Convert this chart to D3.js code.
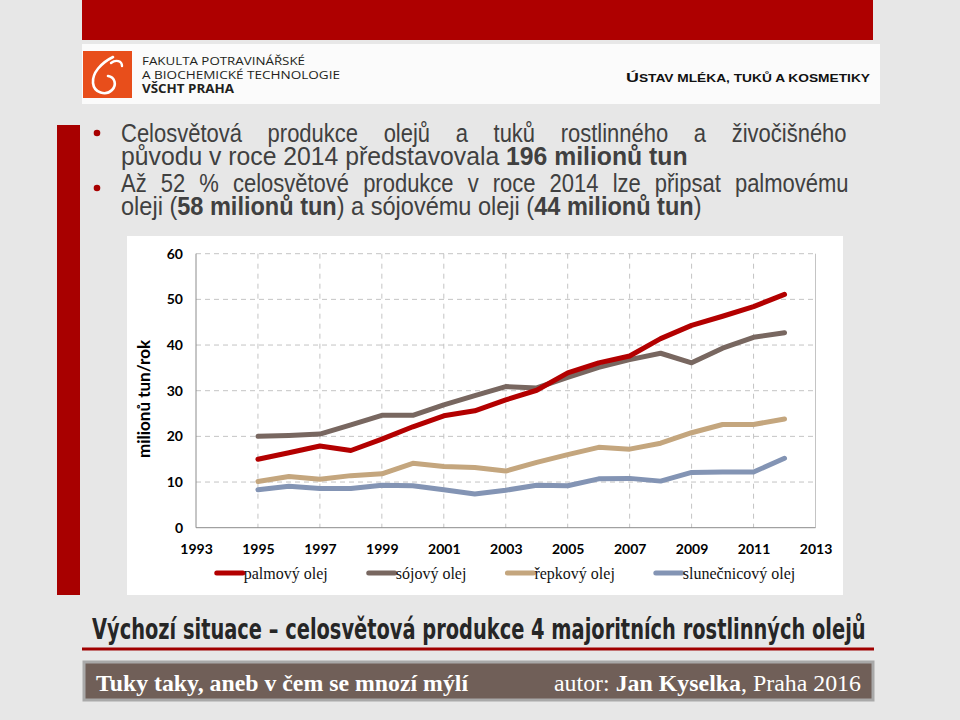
<!DOCTYPE html>
<html><head><meta charset="utf-8">
<script src="https://cdn.jsdelivr.net/npm/d3@7"></script>
<style>html,body{margin:0;padding:0;background:#e7e7e7;}svg{display:block;}</style>
</head><body>
<script>
// ---- data ----
const years = [1995,1996,1997,1998,1999,2000,2001,2002,2003,2004,2005,2006,2007,2008,2009,2010,2011,2012];
const palmovy = [15.0,16.4,17.9,16.9,19.4,22.1,24.5,25.6,28.0,30.1,33.9,36.1,37.6,41.4,44.3,46.3,48.4,51.1];
const sojovy = [20.0,20.2,20.5,22.5,24.6,24.6,26.9,28.9,30.9,30.6,32.9,35.1,36.8,38.2,36.1,39.3,41.7,42.7];
const repkovy = [10.1,11.2,10.6,11.4,11.8,14.1,13.4,13.2,12.4,14.3,16.0,17.6,17.2,18.5,20.8,22.6,22.6,23.8];
const slunecnicovy = [8.3,9.1,8.6,8.6,9.3,9.2,8.3,7.4,8.2,9.3,9.2,10.7,10.8,10.2,12.1,12.2,12.2,15.2];
const seriesNames = ["palmový olej","sójový olej","řepkový olej","slunečnicový olej"];
const seriesColors = ["#b30000","#786760","#c4a67e","#8394b4"];
const xTicks = [1993,1995,1997,1999,2001,2003,2005,2007,2009,2011,2013];
const yTicks = [0,10,20,30,40,50,60];
const yTitle = "milionů tun/rok";

const W=960,H=720;
const svg=d3.select("body").append("svg").attr("width",W).attr("height",H);
svg.append("rect").attr("width",W).attr("height",H).attr("fill","#e7e7e7");

// ---- slide decoration ----
svg.append("rect").attr("x",82).attr("y",0).attr("width",791).attr("height",40).attr("fill","#ae0000");
svg.append("rect").attr("x",82).attr("y",44).attr("width",798).attr("height",60).attr("fill","#fbfbfb");
svg.append("rect").attr("x",83).attr("y",51).attr("width",49).attr("height",47).attr("fill","#e84e1b");
svg.append("path").attr("d","M113,57 C101,63 92,73 93,83 C94,93 106,96 112,90 C117,85 115,77 108,76")
  .attr("fill","none").attr("stroke","#fff").attr("stroke-width",2.6).attr("stroke-linecap","round");
svg.append("path").attr("d","M111,63 C116,59 122,61 122,66")
  .attr("fill","none").attr("stroke","#fff").attr("stroke-width",2.4).attr("stroke-linecap","round");
const hdr=[["FAKULTA POTRAVINÁŘSKÉ",64.5,"normal",163],["A BIOCHEMICKÉ TECHNOLOGIE",78.5,"normal",198],["VŠCHT PRAHA",92.5,"bold",92]];
hdr.forEach(h=>svg.append("text").attr("x",142).attr("y",h[1]).text(h[0])
  .attr("font-family","Open Sans").attr("font-size",11.5).attr("font-weight",h[2]).attr("fill","#231f20")
  .attr("textLength",h[3]).attr("lengthAdjust","spacingAndGlyphs"));
const ust=svg.append("text").attr("x",870).attr("y",82).attr("text-anchor","end")
  .attr("font-family","Liberation Sans").attr("font-weight","bold").attr("fill","#111")
  .attr("textLength",244).attr("lengthAdjust","spacingAndGlyphs");
ust.append("tspan").attr("font-size",13).text("Ú");
ust.append("tspan").attr("font-size",10).text("STAV MLÉKA, TUKŮ A KOSMETIKY");

svg.append("rect").attr("x",57).attr("y",125).attr("width",23).attr("height",470).attr("fill","#a80000");

// bullet text
const bulletColor="#404040";
const lines=[
  {y:142, parts:[["Celosvětová produkce olejů a tuků rostlinného a živočišného","normal"]], w:726, just:true},
  {y:165, parts:[["původu v roce 2014 představovala ","normal"],["196 milionů tun","bold"]], w:567, just:false},
  {y:192, parts:[["Až 52 % celosvětové produkce v roce 2014 lze připsat palmovému","normal"]], w:728, just:true},
  {y:215, parts:[["oleji (","normal"],["58 milionů tun","bold"],[") a sójovému oleji (","normal"],["44 milionů tun","bold"],[")","normal"]], w:581, just:false}
];
[133,188].forEach(cy=>svg.append("circle").attr("cx",97).attr("cy",cy).attr("r",3.3).attr("fill","#a80000"));
const fs=25, jsx=0.88;
lines.forEach(L=>{
  const g=svg.append("g");
  const t=g.append("text").attr("font-family","Liberation Sans").attr("font-size",fs).attr("fill",bulletColor);
  L.parts.forEach(p=>t.append("tspan").attr("font-weight",p[1]).text(p[0]));
  const len=t.node().getComputedTextLength();
  let sx;
  if(L.just){
    sx=jsx;
    const spaces=(L.parts.map(p=>p[0]).join("").match(/ /g)||[]).length;
    t.style("word-spacing",((L.w/sx-len)/spaces)+"px");
  } else sx=L.w/len;
  g.attr("transform",`translate(121,${L.y}) scale(${sx},1)`);
});

// ---- chart ----
svg.append("rect").attr("x",127).attr("y",236).attr("width",716).attr("height",359).attr("fill","#ffffff");
const x=d3.scaleLinear().domain([1993,2013]).range([196,815.5]);
const y=d3.scaleLinear().domain([0,60]).range([527.7,253.7]);
const grid=svg.append("g");
yTicks.filter(v=>v>0).forEach(v=>grid.append("line").attr("x1",x(1993)).attr("x2",x(2013)).attr("y1",y(v)).attr("y2",y(v))
  .attr("stroke","#c4c4c4").attr("stroke-dasharray","5,4"));
xTicks.filter(v=>v>1993&&v<2013).forEach(v=>grid.append("line").attr("x1",x(v)).attr("x2",x(v)).attr("y1",y(60)).attr("y2",y(0))
  .attr("stroke","#c4c4c4").attr("stroke-dasharray","5,5"));
grid.append("line").attr("x1",x(2013)).attr("x2",x(2013)).attr("y1",y(60)).attr("y2",y(0)).attr("stroke","#c4c4c4");
grid.append("line").attr("x1",x(1993)).attr("x2",x(1993)).attr("y1",y(60)).attr("y2",y(0)).attr("stroke","#8c8c8c");
grid.append("line").attr("x1",x(1993)).attr("x2",x(2013)).attr("y1",y(0)).attr("y2",y(0)).attr("stroke","#8c8c8c");

const yAxis=svg.append("g").attr("transform",`translate(${x(1993)},0)`)
  .call(d3.axisLeft(y).tickValues(yTicks).tickFormat(d3.format("d")).tickSize(0).tickPadding(13));
const xAxis=svg.append("g").attr("transform",`translate(0,${y(0)})`)
  .call(d3.axisBottom(x).tickValues(xTicks).tickFormat(d3.format("d")).tickSize(0).tickPadding(16));
[yAxis,xAxis].forEach(a=>{a.select(".domain").remove();
  a.selectAll("text").attr("font-family","Lato").attr("font-weight","bold").attr("font-size",14).attr("fill","#000");});

svg.append("text").attr("transform","translate(150,399) rotate(-90)").attr("text-anchor","middle")
  .attr("font-family","Lato").attr("font-weight","bold").attr("font-size",17).attr("fill","#000").text(yTitle);

const data=[palmovy,sojovy,repkovy,slunecnicovy];
const line=d3.line().x((d,i)=>x(years[i])).y(d=>y(d));
[3,2,1,0].forEach(k=>svg.append("path").datum(data[k]).attr("d",line).attr("fill","none")
  .attr("stroke",seriesColors[k]).attr("stroke-width",5).attr("stroke-linejoin","round").attr("stroke-linecap","round"));

// legend
const lg=svg.append("g");
const items=seriesNames.map((n,k)=>{
  const g=lg.append("g");
  g.append("line").attr("x1",2).attr("x2",28).attr("y1",0).attr("y2",0).attr("stroke",seriesColors[k])
    .attr("stroke-width",5).attr("stroke-linecap","round");
  const t=g.append("text").attr("x",29).attr("y",5.5).attr("font-family","Liberation Serif").attr("font-size",16).attr("fill","#111").text(n);
  return {g,w:29+t.node().getComputedTextLength()};
});
const gap=39;
const total=d3.sum(items,d=>d.w)+gap*(items.length-1);
let cx=505-total/2;
items.forEach(it=>{it.g.attr("transform",`translate(${cx},573)`);cx+=it.w+gap;});

// ---- bottom ----
const tg=svg.append("g");
const tt=tg.append("text").attr("x",0).attr("y",0).attr("font-family","DejaVu Sans Condensed").attr("font-weight","bold")
  .attr("font-size",29).attr("fill","#262626")
  .text("Výchozí situace – celosvětová produkce 4 majoritních rostlinných olejů");
const tsx=774/tt.node().getComputedTextLength();
tg.attr("transform",`translate(92,639) scale(${tsx},1)`);
svg.append("rect").attr("x",82).attr("y",647.5).attr("width",792).attr("height",3).attr("fill","#a00000");
svg.append("rect").attr("x",84).attr("y",662).attr("width",789).attr("height",38).attr("fill","#705f58")
  .attr("stroke","#a9a9a9").attr("stroke-width",3);
svg.append("text").attr("x",96).attr("y",691).attr("font-family","Liberation Serif").attr("font-weight","bold")
  .attr("font-size",24).attr("fill","#fff").attr("textLength",372).attr("lengthAdjust","spacingAndGlyphs")
  .text("Tuky taky, aneb v čem se mnozí mýlí");
const au=svg.append("text").attr("x",861).attr("y",691).attr("text-anchor","end").attr("font-family","Liberation Serif")
  .attr("font-size",24).attr("fill","#fff").attr("textLength",307).attr("lengthAdjust","spacingAndGlyphs");
au.append("tspan").text("autor: ");
au.append("tspan").attr("font-weight","bold").text("Jan Kyselka");
au.append("tspan").text(", Praha 2016");
</script>
</body></html>
